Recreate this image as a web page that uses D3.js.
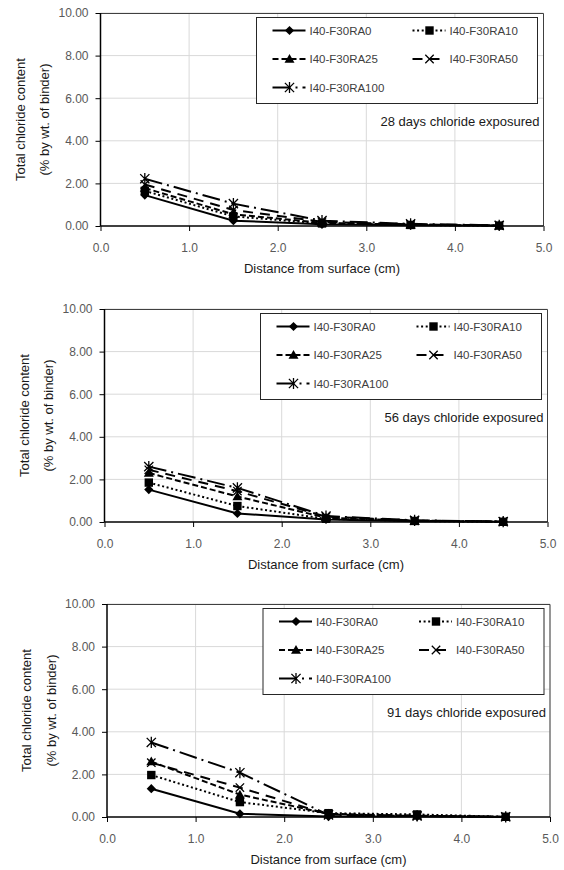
<!DOCTYPE html>
<html>
<head>
<meta charset="utf-8">
<script src="https://cdn.jsdelivr.net/npm/d3@7"></script>
<style>
  html, body { margin: 0; padding: 0; background: #fff; }
  svg { display: block; }
  text { font-family: "Liberation Sans", Arial, sans-serif; }
</style>
</head>
<body>
<svg id="chart" width="564" height="870"></svg>
<script>
// ---------------- DATA ----------------
const depths = [0.5, 1.5, 2.5, 3.5, 4.5];
const seriesNames = ["I40-F30RA0", "I40-F30RA10", "I40-F30RA25", "I40-F30RA50", "I40-F30RA100"];
const panelTitles = ["28 days chloride exposured", "56 days chloride exposured", "91 days chloride exposured"];
const xTicks = [0, 1, 2, 3, 4, 5];
const yTicks = [0, 2, 4, 6, 8, 10];
const xTitle = "Distance from surface (cm)";
const yTitle1 = "Total chloride content";
const yTitle2 = "(% by wt. of binder)";

// values per panel: rows follow seriesNames, columns follow depths
const values28 = [
  [1.45, 0.25, 0.08, 0.03, 0.01],
  [1.65, 0.45, 0.12, 0.05, 0.02],
  [1.78, 0.55, 0.15, 0.06, 0.02],
  [1.95, 0.75, 0.20, 0.08, 0.03],
  [2.22, 1.05, 0.25, 0.10, 0.03]
];
const values56 = [
  [1.52, 0.40, 0.12, 0.04, 0.01],
  [1.85, 0.75, 0.15, 0.05, 0.01],
  [2.30, 1.20, 0.20, 0.06, 0.02],
  [2.45, 1.45, 0.25, 0.07, 0.02],
  [2.60, 1.60, 0.28, 0.08, 0.02]
];
const values91 = [
  [1.33, 0.15, 0.02, 0.02, 0.00],
  [1.97, 0.70, 0.18, 0.12, 0.01],
  [2.60, 1.05, 0.15, 0.06, 0.01],
  [2.55, 1.38, 0.12, 0.05, 0.01],
  [3.50, 2.08, 0.10, 0.05, 0.01]
];
const allValues = [values28, values56, values91];

// ---------------- STYLE / LAYOUT ----------------
const panels = [
  { x0: 100.5, top: 13 },
  { x0: 104.5, top: 309 },
  { x0: 107,   top: 604 }
];
const W = 443, H = 213;
const dashes = [null, "2,2.6", "6,3", "10,7", "18,5,2,5"];
const markers = ["diamond", "square", "triangle", "x", "star"];

const svg = d3.select("#chart");

function drawMarker(g, type, x, y) {
  if (type === "diamond") {
    const s = 4.6;
    g.append("path").attr("d", `M${x},${y - s}L${x + s},${y}L${x},${y + s}L${x - s},${y}Z`).attr("fill", "#000");
  } else if (type === "square") {
    const s = 4.2;
    g.append("rect").attr("x", x - s).attr("y", y - s).attr("width", 2 * s).attr("height", 2 * s).attr("fill", "#000");
  } else if (type === "triangle") {
    const s = 5;
    g.append("path").attr("d", `M${x},${y - s}L${x + s},${y + s * 0.75}L${x - s},${y + s * 0.75}Z`).attr("fill", "#000");
  } else if (type === "x") {
    const s = 4.2;
    g.append("path").attr("d", `M${x - s},${y - s}L${x + s},${y + s}M${x - s},${y + s}L${x + s},${y - s}`)
      .attr("stroke", "#000").attr("stroke-width", 1.3).attr("fill", "none");
  } else if (type === "star") {
    const s = 4.6;
    g.append("path").attr("d", `M${x - s},${y - s}L${x + s},${y + s}M${x - s},${y + s}L${x + s},${y - s}M${x},${y - s - 1}L${x},${y + s + 1}`)
      .attr("stroke", "#000").attr("stroke-width", 1.3).attr("fill", "none");
  }
}

panels.forEach((p, pi) => {
  const g = svg.append("g").attr("transform", `translate(${p.x0},${p.top})`);
  const x = d3.scaleLinear().domain([0, 5]).range([0, W]);
  const y = d3.scaleLinear().domain([0, 10]).range([H, 0]);

  // gridlines
  g.append("g").selectAll("line.gx").data(xTicks.slice(1)).join("line")
    .attr("x1", d => x(d)).attr("x2", d => x(d)).attr("y1", 0).attr("y2", H)
    .attr("stroke", "#d9d9d9").attr("stroke-width", 1);
  g.append("g").selectAll("line.gy").data(yTicks.slice(1)).join("line")
    .attr("x1", 0).attr("x2", W).attr("y1", d => y(d)).attr("y2", d => y(d))
    .attr("stroke", "#d9d9d9").attr("stroke-width", 1);

  // frame top/right
  g.append("path").attr("d", `M0,0.5H${W}V${H}`).attr("fill", "none").attr("stroke", "#404040").attr("stroke-width", 1);

  // axes
  const yAxis = d3.axisLeft(y).tickValues(yTicks).tickFormat(d3.format(".2f")).tickSize(5).tickPadding(7);
  const gy = g.append("g").call(yAxis);
  const xAxis = d3.axisBottom(x).tickValues(xTicks).tickFormat(d3.format(".1f")).tickSize(5).tickPadding(12);
  const gx = g.append("g").attr("transform", `translate(0,${H})`).call(xAxis);
  [gx, gy].forEach(a => {
    a.select(".domain").attr("stroke", "#000").attr("stroke-width", 1.5);
    a.selectAll(".tick line").attr("stroke", "#000").attr("stroke-width", 1);
    a.selectAll(".tick text").attr("fill", "#595959").attr("font-size", 12)
      .attr("font-family", '"Liberation Sans", Arial, sans-serif');
  });
  gx.select(".domain").attr("d", `M0,0H${W}`);
  gy.select(".domain").attr("d", `M0,0V${H}`);

  // titles
  g.append("text").attr("x", W / 2).attr("y", H + 47).attr("text-anchor", "middle")
    .attr("font-size", 13).attr("fill", "#1a1a1a").text(xTitle);
  g.append("text").attr("transform", `translate(-76,${H / 2}) rotate(-90)`).attr("text-anchor", "middle")
    .attr("font-size", 13).attr("fill", "#1a1a1a").text(yTitle1);
  g.append("text").attr("transform", `translate(-51.5,${H / 2}) rotate(-90)`).attr("text-anchor", "middle")
    .attr("font-size", 13).attr("fill", "#1a1a1a").text(yTitle2);

  // series
  const vals = allValues[pi];
  const line = d3.line().x(d => x(d[0])).y(d => y(d[1]));
  seriesNames.forEach((name, si) => {
    const pts = depths.map((d, i) => [d, vals[si][i]]);
    const sg = g.append("g");
    sg.append("path").datum(pts).attr("d", line).attr("fill", "none")
      .attr("stroke", "#000").attr("stroke-width", 2)
      .attr("stroke-dasharray", dashes[si]);
    pts.forEach(pt => drawMarker(sg, markers[si], x(pt[0]), y(pt[1])));
  });

  // annotation
  g.append("text").attr("x", W - 4).attr("y", 108 + 4.5).attr("text-anchor", "end")
    .attr("font-size", 13).attr("fill", "#1a1a1a").text(panelTitles[pi]);

  // legend
  const lg = g.append("g").attr("transform", "translate(156,4.5)");
  lg.append("rect").attr("x", 0).attr("y", 0).attr("width", 281).attr("height", 86)
    .attr("fill", "#fff").attr("stroke", "#262626").attr("stroke-width", 1);
  const pos = [[0, 0], [1, 0], [0, 1], [1, 1], [0, 2]];
  seriesNames.forEach((name, si) => {
    const cx = pos[si][0] === 0 ? 16 : 156;
    const cy = 13 + pos[si][1] * 28.5;
    const eg = lg.append("g");
    eg.append("line").attr("x1", cx).attr("x2", cx + 33).attr("y1", cy).attr("y2", cy)
      .attr("stroke", "#000").attr("stroke-width", 2).attr("stroke-dasharray", dashes[si]);
    drawMarker(eg, markers[si], cx + 17, cy);
    eg.append("text").attr("x", cx + 37).attr("y", cy + 4).attr("font-size", 11.5)
      .attr("fill", "#404040").text(name);
  });
});
</script>
</body>
</html>
